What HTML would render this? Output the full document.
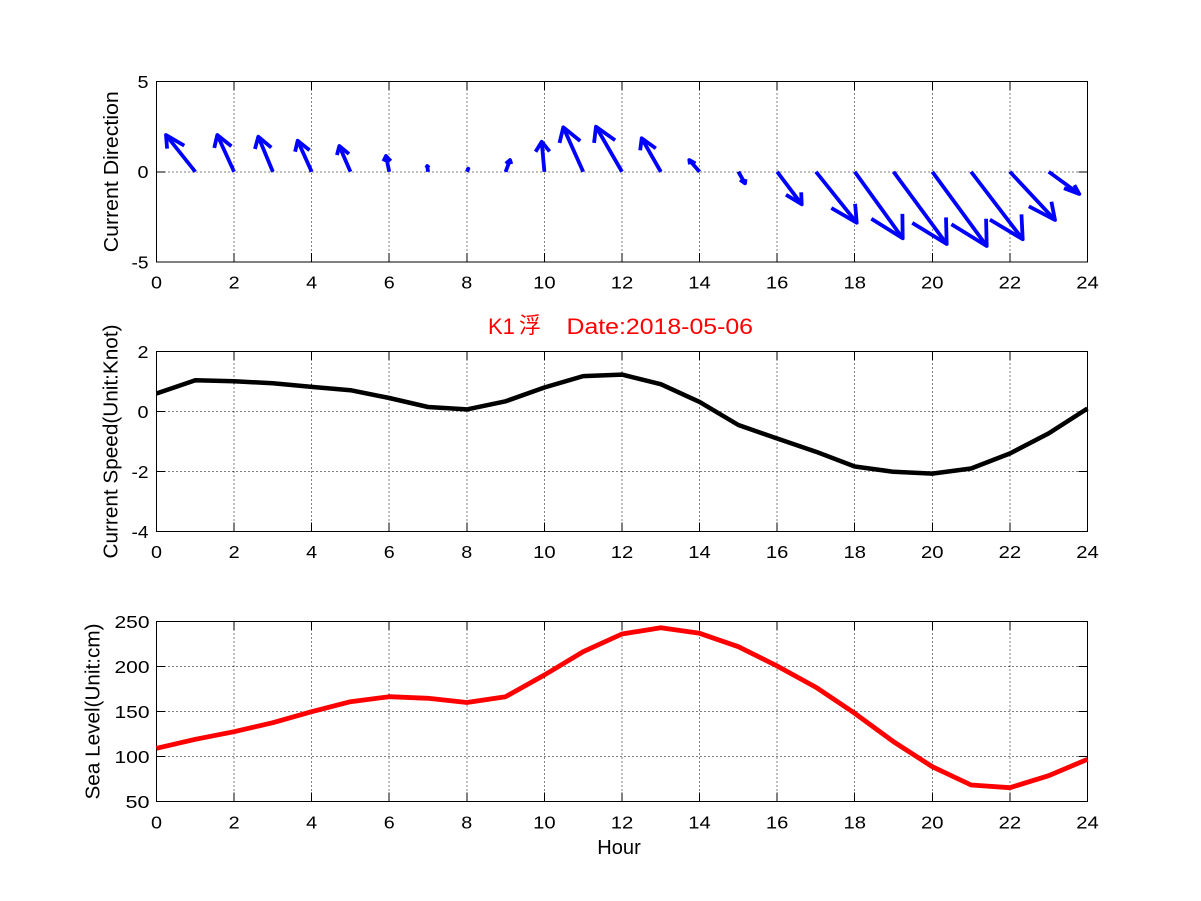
<!DOCTYPE html>
<html>
<head>
<meta charset="utf-8">
<style>
html,body{margin:0;padding:0;background:#fff;}
svg{display:block;}
text{font-family:"Liberation Sans","Noto Sans CJK SC",sans-serif;fill:#000;}
</style>
</head>
<body>
<svg width="1201" height="901" viewBox="0 0 1201 901" xmlns="http://www.w3.org/2000/svg">
<rect x="0" y="0" width="1201" height="901" fill="#fff"/>

<!-- ============ TOP AXES ============ -->
<g stroke="#000" stroke-width="1" stroke-dasharray="1,3" fill="none" shape-rendering="crispEdges">
  <line x1="234.08" y1="81.5" x2="234.08" y2="262"/>
  <line x1="311.66" y1="81.5" x2="311.66" y2="262"/>
  <line x1="389.24" y1="81.5" x2="389.24" y2="262"/>
  <line x1="466.82" y1="81.5" x2="466.82" y2="262"/>
  <line x1="544.4" y1="81.5" x2="544.4" y2="262"/>
  <line x1="621.98" y1="81.5" x2="621.98" y2="262"/>
  <line x1="699.56" y1="81.5" x2="699.56" y2="262"/>
  <line x1="777.14" y1="81.5" x2="777.14" y2="262"/>
  <line x1="854.72" y1="81.5" x2="854.72" y2="262"/>
  <line x1="932.3" y1="81.5" x2="932.3" y2="262"/>
  <line x1="1009.88" y1="81.5" x2="1009.88" y2="262"/>
  <line x1="156.5" y1="171.75" x2="1087.5" y2="171.75"/>
</g>
<g stroke="#000" stroke-width="1" fill="none" shape-rendering="crispEdges">
  <rect x="156.5" y="81.5" width="931" height="180.5"/>
  <path d="M234.08 262v-9M311.66 262v-9M389.24 262v-9M466.82 262v-9M544.4 262v-9M621.98 262v-9M699.56 262v-9M777.14 262v-9M854.72 262v-9M932.3 262v-9M1009.88 262v-9
           M234.08 81.5v9M311.66 81.5v9M389.24 81.5v9M466.82 81.5v9M544.4 81.5v9M621.98 81.5v9M699.56 81.5v9M777.14 81.5v9M854.72 81.5v9M932.3 81.5v9M1009.88 81.5v9
           M156.5 171.75h9M1087.5 171.75h-9"/>
</g>
<!-- arrows -->
<g stroke="#0000ff" stroke-width="3.8" fill="none" stroke-linejoin="round" stroke-linecap="butt">
  <line x1="195.29" y1="171.75" x2="166" y2="135"/><polyline points="167.09,148.62 166,135 184.25,145.64"/>
  <line x1="234.08" y1="171.75" x2="217.3" y2="135"/><polyline points="214.26,147.98 217.3,135 231.42,146.28"/>
  <line x1="272.87" y1="171.75" x2="258.3" y2="136.7"/><polyline points="254.94,149.01 258.3,136.7 271.3,147.53"/>
  <line x1="311.66" y1="171.75" x2="297.7" y2="140.7"/><polyline points="295.07,151.66 297.7,140.7 309.57,150.24"/>
  <line x1="350.45" y1="171.75" x2="339.3" y2="146"/><polyline points="336.97,155.07 339.3,146 348.99,153.93"/>
  <line x1="389.24" y1="171.75" x2="386" y2="156"/><polyline points="383.38,161.36 386,156 390.74,161.04"/>
  <line x1="428.03" y1="171.75" x2="427.3" y2="166"/><polyline points="426.19,167.94 427.3,166 428.87,167.86"/>
  <line x1="466.82" y1="171.75" x2="468.3" y2="168.7"/><polyline points="467.09,169.63 468.3,168.7 468.51,169.79"/>
  <line x1="505.61" y1="171.75" x2="510" y2="160"/><polyline points="505.81,163.66 510,160 511.29,164.1"/>
  <line x1="544.4" y1="171.75" x2="541.7" y2="141.7"/><polyline points="535.58,151.76 541.7,141.7 549.6,151.48"/>
  <line x1="583.19" y1="171.75" x2="563.3" y2="127.3"/><polyline points="559.5,142.98 563.3,127.3 580.24,140.96"/>
  <line x1="621.98" y1="171.75" x2="596" y2="126.7"/><polyline points="594.07,142.89 596,126.7 615.09,140.25"/>
  <line x1="660.77" y1="171.75" x2="641.7" y2="138.3"/><polyline points="640.19,150.31 641.7,138.3 655.81,148.37"/>
  <line x1="699.56" y1="171.75" x2="689.3" y2="160"/><polyline points="689.96,164.4 689.3,160 695.44,163.36"/>
  <line x1="738.35" y1="171.75" x2="745" y2="183.3"/><polyline points="745.51,179.15 745,183.3 740.11,179.83"/>
  <line x1="777.14" y1="171.75" x2="801.7" y2="204.3"/><polyline points="801.18,192.31 801.7,204.3 785.98,194.81"/>
  <line x1="815.93" y1="171.75" x2="856.7" y2="222.7"/><polyline points="855.13,203.82 856.7,222.7 831.35,207.96"/>
  <line x1="854.72" y1="171.75" x2="902.7" y2="238.3"/><polyline points="902.39,213.9 902.7,238.3 871.33,218.78"/>
  <line x1="893.51" y1="171.75" x2="946.7" y2="244"/><polyline points="946,217.46 946.7,244 912.28,222.86"/>
  <line x1="932.3" y1="171.75" x2="986.7" y2="246"/><polyline points="986.08,218.74 986.7,246 951.42,224.26"/>
  <line x1="971.09" y1="171.75" x2="1022.7" y2="239.3"/><polyline points="1021.44,214.39 1022.7,239.3 989.9,219.63"/>
  <line x1="1009.88" y1="171.75" x2="1055" y2="220"/><polyline points="1051.38,201.79 1055,220 1028.86,206.37"/>
  <line x1="1048.67" y1="171.75" x2="1079.3" y2="194"/><polyline points="1074.39,185.11 1079.3,194 1064.01,188.21"/>
</g>
<!-- top tick labels -->
<g font-size="17.5">
  <text x="156.5" y="288.5" text-anchor="middle" textLength="11" lengthAdjust="spacingAndGlyphs">0</text>
  <text x="234.08" y="288.5" text-anchor="middle" textLength="11" lengthAdjust="spacingAndGlyphs">2</text>
  <text x="311.66" y="288.5" text-anchor="middle" textLength="11" lengthAdjust="spacingAndGlyphs">4</text>
  <text x="389.24" y="288.5" text-anchor="middle" textLength="11" lengthAdjust="spacingAndGlyphs">6</text>
  <text x="466.82" y="288.5" text-anchor="middle" textLength="11" lengthAdjust="spacingAndGlyphs">8</text>
  <text x="544.4" y="288.5" text-anchor="middle" textLength="22.5" lengthAdjust="spacingAndGlyphs">10</text>
  <text x="621.98" y="288.5" text-anchor="middle" textLength="22.5" lengthAdjust="spacingAndGlyphs">12</text>
  <text x="699.56" y="288.5" text-anchor="middle" textLength="22.5" lengthAdjust="spacingAndGlyphs">14</text>
  <text x="777.14" y="288.5" text-anchor="middle" textLength="22.5" lengthAdjust="spacingAndGlyphs">16</text>
  <text x="854.72" y="288.5" text-anchor="middle" textLength="22.5" lengthAdjust="spacingAndGlyphs">18</text>
  <text x="932.3" y="288.5" text-anchor="middle" textLength="22.5" lengthAdjust="spacingAndGlyphs">20</text>
  <text x="1009.88" y="288.5" text-anchor="middle" textLength="22.5" lengthAdjust="spacingAndGlyphs">22</text>
  <text x="1087.46" y="288.5" text-anchor="middle" textLength="22.5" lengthAdjust="spacingAndGlyphs">24</text>
  <text x="148.5" y="87.8" text-anchor="end" textLength="11" lengthAdjust="spacingAndGlyphs">5</text>
  <text x="148.5" y="178" text-anchor="end" textLength="11" lengthAdjust="spacingAndGlyphs">0</text>
  <text x="148.5" y="268.3" text-anchor="end" textLength="17" lengthAdjust="spacingAndGlyphs">-5</text>
</g>
<text font-size="20.5" transform="translate(118,171.75) rotate(-90)" text-anchor="middle" textLength="161" lengthAdjust="spacingAndGlyphs">Current Direction</text>

<!-- ============ MIDDLE AXES ============ -->
<text x="488" y="334" font-size="22" fill="#ff0000" style="fill:#ff0000">K1</text>
<text x="519" y="333" font-size="22" style="fill:#ff0000;font-family:'Noto Sans CJK SC',sans-serif">浮</text>
<text x="566.5" y="334" font-size="22" style="fill:#ff0000" textLength="186.5" lengthAdjust="spacingAndGlyphs">Date:2018-05-06</text>

<g stroke="#000" stroke-width="1" stroke-dasharray="1,3" fill="none" shape-rendering="crispEdges">
  <line x1="234.08" y1="351.5" x2="234.08" y2="531.5"/>
  <line x1="311.66" y1="351.5" x2="311.66" y2="531.5"/>
  <line x1="389.24" y1="351.5" x2="389.24" y2="531.5"/>
  <line x1="466.82" y1="351.5" x2="466.82" y2="531.5"/>
  <line x1="544.4" y1="351.5" x2="544.4" y2="531.5"/>
  <line x1="621.98" y1="351.5" x2="621.98" y2="531.5"/>
  <line x1="699.56" y1="351.5" x2="699.56" y2="531.5"/>
  <line x1="777.14" y1="351.5" x2="777.14" y2="531.5"/>
  <line x1="854.72" y1="351.5" x2="854.72" y2="531.5"/>
  <line x1="932.3" y1="351.5" x2="932.3" y2="531.5"/>
  <line x1="1009.88" y1="351.5" x2="1009.88" y2="531.5"/>
  <line x1="156.5" y1="411.5" x2="1087.5" y2="411.5"/>
  <line x1="156.5" y1="471.5" x2="1087.5" y2="471.5"/>
</g>
<g stroke="#000" stroke-width="1" fill="none" shape-rendering="crispEdges">
  <rect x="156.5" y="351.5" width="931" height="180"/>
  <path d="M234.08 531.5v-9M311.66 531.5v-9M389.24 531.5v-9M466.82 531.5v-9M544.4 531.5v-9M621.98 531.5v-9M699.56 531.5v-9M777.14 531.5v-9M854.72 531.5v-9M932.3 531.5v-9M1009.88 531.5v-9
           M234.08 351.5v9M311.66 351.5v9M389.24 351.5v9M466.82 351.5v9M544.4 351.5v9M621.98 351.5v9M699.56 351.5v9M777.14 351.5v9M854.72 351.5v9M932.3 351.5v9M1009.88 351.5v9
           M156.5 411.5h9M1087.5 411.5h-9M156.5 471.5h9M1087.5 471.5h-9"/>
</g>
<polyline fill="none" stroke="#000" stroke-width="4.5" stroke-linejoin="round"
  points="156.5,393.5 195.29,380.3 234.08,381.2 272.87,383.3 311.66,386.9 350.45,390.2 389.24,398 428.03,407 466.82,409.4 505.61,401.3 544.4,387.5 583.19,376.1 621.98,374.6 660.77,384.2 699.56,401.9 738.35,425 777.14,438.5 815.93,451.7 854.72,466.5 893.51,471.8 932.3,473.6 971.09,468.5 1009.88,453.5 1048.67,433.4 1087.46,408.5"/>
<g font-size="17.5">
  <text x="156.5" y="558" text-anchor="middle" textLength="11" lengthAdjust="spacingAndGlyphs">0</text>
  <text x="234.08" y="558" text-anchor="middle" textLength="11" lengthAdjust="spacingAndGlyphs">2</text>
  <text x="311.66" y="558" text-anchor="middle" textLength="11" lengthAdjust="spacingAndGlyphs">4</text>
  <text x="389.24" y="558" text-anchor="middle" textLength="11" lengthAdjust="spacingAndGlyphs">6</text>
  <text x="466.82" y="558" text-anchor="middle" textLength="11" lengthAdjust="spacingAndGlyphs">8</text>
  <text x="544.4" y="558" text-anchor="middle" textLength="22.5" lengthAdjust="spacingAndGlyphs">10</text>
  <text x="621.98" y="558" text-anchor="middle" textLength="22.5" lengthAdjust="spacingAndGlyphs">12</text>
  <text x="699.56" y="558" text-anchor="middle" textLength="22.5" lengthAdjust="spacingAndGlyphs">14</text>
  <text x="777.14" y="558" text-anchor="middle" textLength="22.5" lengthAdjust="spacingAndGlyphs">16</text>
  <text x="854.72" y="558" text-anchor="middle" textLength="22.5" lengthAdjust="spacingAndGlyphs">18</text>
  <text x="932.3" y="558" text-anchor="middle" textLength="22.5" lengthAdjust="spacingAndGlyphs">20</text>
  <text x="1009.88" y="558" text-anchor="middle" textLength="22.5" lengthAdjust="spacingAndGlyphs">22</text>
  <text x="1087.46" y="558" text-anchor="middle" textLength="22.5" lengthAdjust="spacingAndGlyphs">24</text>
  <text x="148.5" y="357.8" text-anchor="end" textLength="11" lengthAdjust="spacingAndGlyphs">2</text>
  <text x="148.5" y="417.8" text-anchor="end" textLength="11" lengthAdjust="spacingAndGlyphs">0</text>
  <text x="148.5" y="477.8" text-anchor="end" textLength="17" lengthAdjust="spacingAndGlyphs">-2</text>
  <text x="148.5" y="537.8" text-anchor="end" textLength="17" lengthAdjust="spacingAndGlyphs">-4</text>
</g>
<text font-size="20.5" transform="translate(117.5,441.5) rotate(-90)" text-anchor="middle" textLength="234" lengthAdjust="spacingAndGlyphs">Current Speed(Unit:Knot)</text>

<!-- ============ BOTTOM AXES ============ -->
<g stroke="#000" stroke-width="1" stroke-dasharray="1,3" fill="none" shape-rendering="crispEdges">
  <line x1="234.08" y1="621.5" x2="234.08" y2="801.5"/>
  <line x1="311.66" y1="621.5" x2="311.66" y2="801.5"/>
  <line x1="389.24" y1="621.5" x2="389.24" y2="801.5"/>
  <line x1="466.82" y1="621.5" x2="466.82" y2="801.5"/>
  <line x1="544.4" y1="621.5" x2="544.4" y2="801.5"/>
  <line x1="621.98" y1="621.5" x2="621.98" y2="801.5"/>
  <line x1="699.56" y1="621.5" x2="699.56" y2="801.5"/>
  <line x1="777.14" y1="621.5" x2="777.14" y2="801.5"/>
  <line x1="854.72" y1="621.5" x2="854.72" y2="801.5"/>
  <line x1="932.3" y1="621.5" x2="932.3" y2="801.5"/>
  <line x1="1009.88" y1="621.5" x2="1009.88" y2="801.5"/>
  <line x1="156.5" y1="666.5" x2="1087.5" y2="666.5"/>
  <line x1="156.5" y1="711.5" x2="1087.5" y2="711.5"/>
  <line x1="156.5" y1="756.5" x2="1087.5" y2="756.5"/>
</g>
<g stroke="#000" stroke-width="1" fill="none" shape-rendering="crispEdges">
  <rect x="156.5" y="621.5" width="931" height="180"/>
  <path d="M234.08 801.5v-9M311.66 801.5v-9M389.24 801.5v-9M466.82 801.5v-9M544.4 801.5v-9M621.98 801.5v-9M699.56 801.5v-9M777.14 801.5v-9M854.72 801.5v-9M932.3 801.5v-9M1009.88 801.5v-9
           M234.08 621.5v9M311.66 621.5v9M389.24 621.5v9M466.82 621.5v9M544.4 621.5v9M621.98 621.5v9M699.56 621.5v9M777.14 621.5v9M854.72 621.5v9M932.3 621.5v9M1009.88 621.5v9
           M156.5 666.5h9M1087.5 666.5h-9M156.5 711.5h9M1087.5 711.5h-9M156.5 756.5h9M1087.5 756.5h-9"/>
</g>
<polyline fill="none" stroke="#ff0000" stroke-width="4.8" stroke-linejoin="round"
  points="156.5,748.3 195.29,739.3 234.08,731.7 272.87,722.7 311.66,711.7 350.45,701.7 389.24,696.7 428.03,698.3 466.82,702.5 505.61,696.7 544.4,675 583.19,651.7 621.98,634 660.77,627.7 699.56,633.3 738.35,646.7 777.14,666 815.93,687.3 854.72,713.3 893.51,741.7 932.3,766.7 971.09,785 1009.88,787.7 1048.67,775.7 1087.46,759.3"/>
<g font-size="17.5">
  <text x="156.5" y="828.5" text-anchor="middle" textLength="11" lengthAdjust="spacingAndGlyphs">0</text>
  <text x="234.08" y="828.5" text-anchor="middle" textLength="11" lengthAdjust="spacingAndGlyphs">2</text>
  <text x="311.66" y="828.5" text-anchor="middle" textLength="11" lengthAdjust="spacingAndGlyphs">4</text>
  <text x="389.24" y="828.5" text-anchor="middle" textLength="11" lengthAdjust="spacingAndGlyphs">6</text>
  <text x="466.82" y="828.5" text-anchor="middle" textLength="11" lengthAdjust="spacingAndGlyphs">8</text>
  <text x="544.4" y="828.5" text-anchor="middle" textLength="22.5" lengthAdjust="spacingAndGlyphs">10</text>
  <text x="621.98" y="828.5" text-anchor="middle" textLength="22.5" lengthAdjust="spacingAndGlyphs">12</text>
  <text x="699.56" y="828.5" text-anchor="middle" textLength="22.5" lengthAdjust="spacingAndGlyphs">14</text>
  <text x="777.14" y="828.5" text-anchor="middle" textLength="22.5" lengthAdjust="spacingAndGlyphs">16</text>
  <text x="854.72" y="828.5" text-anchor="middle" textLength="22.5" lengthAdjust="spacingAndGlyphs">18</text>
  <text x="932.3" y="828.5" text-anchor="middle" textLength="22.5" lengthAdjust="spacingAndGlyphs">20</text>
  <text x="1009.88" y="828.5" text-anchor="middle" textLength="22.5" lengthAdjust="spacingAndGlyphs">22</text>
  <text x="1087.46" y="828.5" text-anchor="middle" textLength="22.5" lengthAdjust="spacingAndGlyphs">24</text>
  <text x="149.5" y="627.8" text-anchor="end" textLength="35" lengthAdjust="spacingAndGlyphs">250</text>
  <text x="149.5" y="672.8" text-anchor="end" textLength="35" lengthAdjust="spacingAndGlyphs">200</text>
  <text x="149.5" y="717.8" text-anchor="end" textLength="35" lengthAdjust="spacingAndGlyphs">150</text>
  <text x="149.5" y="762.8" text-anchor="end" textLength="35" lengthAdjust="spacingAndGlyphs">100</text>
  <text x="149.5" y="807.8" text-anchor="end" textLength="24" lengthAdjust="spacingAndGlyphs">50</text>
</g>
<text font-size="20.5" transform="translate(99.5,711.5) rotate(-90)" text-anchor="middle" textLength="176" lengthAdjust="spacingAndGlyphs">Sea Level(Unit:cm)</text>
<text x="619" y="854" font-size="20.5" text-anchor="middle" textLength="43.5" lengthAdjust="spacingAndGlyphs">Hour</text>
</svg>
</body>
</html>
